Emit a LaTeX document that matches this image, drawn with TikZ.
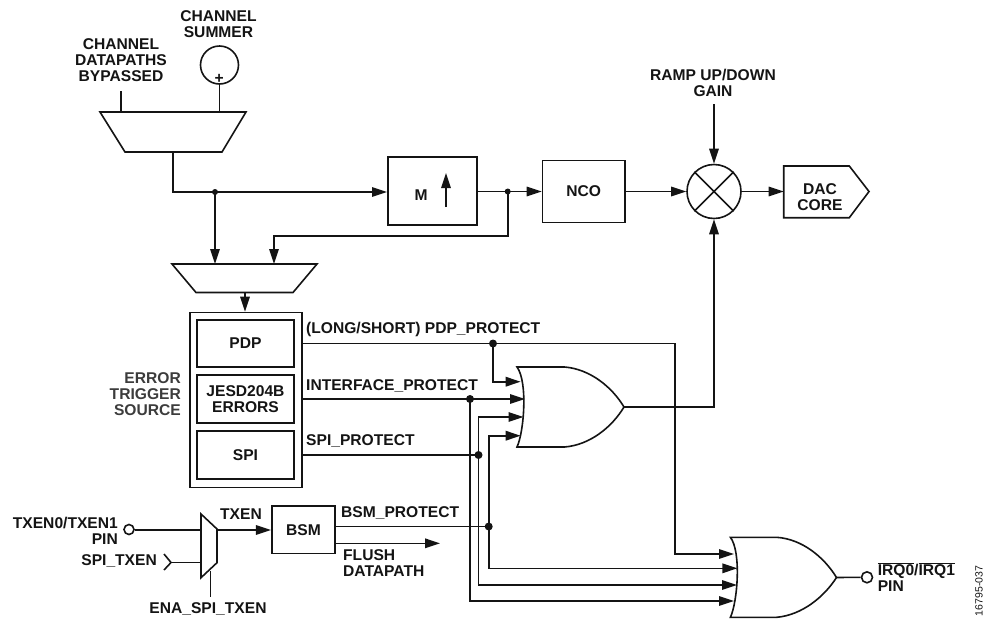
\documentclass[tikz,border=0pt]{standalone}
\usepackage{fontspec}
\setmainfont{Liberation Sans}
\usetikzlibrary{arrows.meta,calc}
\definecolor{ink}{HTML}{141414}
\definecolor{graytxt}{HTML}{3C3C3C}
\tikzset{
  wire/.style={draw=ink,line width=1.6pt,line join=miter},
  arr/.style={wire,-{Triangle[length=15pt,width=9.5pt]}},
  box/.style={draw=ink,line width=1.6pt,inner sep=0pt,fill=white,font=\fontsize{15.6}{16}\selectfont\bfseries,text=ink,align=center},
  lbl/.style={inner sep=0pt,font=\fontsize{15.6}{16}\selectfont\bfseries,text=ink,align=center},
  lbll/.style={lbl,align=left,anchor=west},
  lblr/.style={lbl,align=right,anchor=east},
  sdot/.style={circle,fill=ink,draw=none,inner sep=0pt,minimum size=6pt},
  bubble/.style={circle,draw=ink,line width=1.6pt,fill=white,inner sep=0pt},
}
\begin{document}
\begin{tikzpicture}[x=1pt,y=-1pt]
\useasboundingbox (0,0) rectangle (985,619);
% coordinates
\coordinate (m1a) at (121,113); \coordinate (m1b) at (219.5,112); \coordinate (m1c) at (173,152);
\coordinate (m2a) at (215,264); \coordinate (m2b) at (274,264); \coordinate (m2c) at (245,292);
% labels top
\node[lbl] (lsum) at (218.5,24) {CHANNEL\\SUMMER};
\node[lbl] (lbyp) at (121,60) {CHANNEL\\DATAPATHS\\BYPASSED};
\node[lbl] (lramp) at (713,83) {RAMP UP/DOWN\\GAIN};
\coordinate (bypend) at (121,91);
\coordinate (rampend) at (714,104);
% summer
\node[bubble,minimum size=38pt] (sum) at (219.5,65) {};
\node[lbl] (plus) at (219.3,79) {+};
% mux 1 / 2
\draw[wire] (100,112) -- (246,112) -- (222,152) -- (125,152) -- cycle;
\draw[wire] (172,264) -- (317,264) -- (293,292.5) -- (196,292.5) -- cycle;
\draw[wire] (bypend) -- (m1a);
\draw[wire] (sum.south) -- (m1b);
% blocks
\node[box,minimum width=89pt,minimum height=68pt] (mbox) at (432.3,191) {};
\node[lbl] (mtxt) at (421,195) {M};
\coordinate (up1) at (446,207); \coordinate (up2) at (446,173);
\draw[arr] (up1) -- (up2);
\node[box,minimum width=82.5pt,minimum height=62pt] (nco) at (583.7,191.5) {NCO};
\node[bubble,minimum size=54pt] (mix) at (714,191.5) {};
\draw[wire] (mix.45) -- (mix.225) (mix.135) -- (mix.315);
\draw[wire] (783.7,166) -- (849.3,166) -- (869,191.5) -- (849.3,217.7) -- (783.7,217.7) -- cycle;
\node[lbl] (dac) at (820,197) {DAC\\CORE};
\coordinate (dacin) at (783.7,191.5);
% junctions top
\node[sdot] (j1) at (215,192) {};
\node[sdot] (j2) at (507.7,191.5) {};
% connectors top
\draw[wire] (m1c) |- (j1.center);
\draw[arr] (j1.center) -- (mbox.west |- j1);
\draw[arr] (j1.center) -- (m2a);
\draw[wire] (mbox.east |- j2) -- (j2.center);
\draw[arr] (j2.center) -- (nco.west |- j2);
\draw[arr] (j2.center) |- (274,236) -- (m2b);
\draw[arr] (nco.east |- mix) -- (mix.west);
\draw[arr] (mix.east) -- (dacin);
\draw[arr] (rampend) -- (mix.north);
% error source
\node[box,minimum width=111.5pt,minimum height=175pt] (outer) at (246,400) {};
\node[box,minimum width=97pt,minimum height=47pt] (pdp) at (245.5,343.5) {PDP};
\node[box,minimum width=97pt,minimum height=48pt] (jesd) at (245.5,399) {JESD204B\\ERRORS};
\node[box,minimum width=97pt,minimum height=48pt] (spi) at (245.5,455) {SPI};
\draw[arr] (m2c) -- (outer.north -| m2c);
\node[lblr,text=graytxt] (lerr) at (181,394) {ERROR\\TRIGGER\\SOURCE};
\node[lbll] (lpdp) at (306,329) {(LONG/SHORT) PDP\_PROTECT};
\node[lbll] (lint) at (306,385.5) {INTERFACE\_PROTECT};
\node[lbll] (lspi) at (306,440.5) {SPI\_PROTECT};
% gates
\coordinate (g1a) at (517,367); \coordinate (g1b) at (517,447); \coordinate (g1t) at (624,407);
\draw[wire,fill=white] (g1a) -- (564.5,367) .. controls (590,369) and (612,387) .. (g1t) .. controls (612,427) and (590,445) .. (564.5,447) -- (g1b) .. controls (524,432) and (528,382) .. cycle;
\coordinate (g2a) at (730.4,537.3); \coordinate (g2b) at (730.4,617.3); \coordinate (g2t) at (836.5,577.5);
\draw[wire,fill=white] (g2a) -- (776.7,537.3) .. controls (802,539) and (824,557) .. (g2t) .. controls (824,597) and (802,615) .. (776.7,617.3) -- (g2b) .. controls (737.5,602) and (741.5,552) .. cycle;
\node[bubble,minimum size=11pt] (nb) at (867,577.3) {};
\draw[wire] (g2t) -- (nb.west);
\node[lbll] (lirq) at (877.6,577) {$\overline{\mbox{IRQ0}}$/$\overline{\mbox{IRQ1}}$\\PIN};
\node[rotate=90,inner sep=0pt,font=\fontsize{10.5}{12}\selectfont,text=ink] (code) at (979,591) {16795-037};
% tx path
\node[bubble,minimum size=10pt] (txpin) at (129,529.5) {};
\node[lblr] (ltx) at (118,531) {TXEN0/TXEN1\\PIN};
\node[lblr] (lspitx) at (157,561) {SPI\_TXEN};
\coordinate (chev) at (171,562.5);
\draw[wire] (164,554) -- (chev) -- (164,570);
\draw[wire] (201,514) -- (217,529) -- (217,562.7) -- (201,577.7) -- cycle;
\coordinate (mxin1) at (201,530); \coordinate (mxin2) at (201,562.5); \coordinate (mxout) at (217,530);
\coordinate (ensel) at (210.5,571); \coordinate (enend) at (210.5,597);
\draw[wire] (txpin.east |- mxin1) -- (mxin1);
\draw[wire] (chev) -- (mxin2);
\draw[wire] (ensel) -- (enend);
\node[lbl] (lena) at (208,609) {ENA\_SPI\_TXEN};
\node[box,minimum width=63.5pt,minimum height=47.5pt] (bsm) at (303.5,529.7) {BSM};
\draw[arr] (mxout) -- (bsm.west |- mxout);
\node[lbl] (ltxen) at (241,514.5) {TXEN};
\node[lbll] (lbsm) at (341,513) {BSM\_PROTECT};
\coordinate (flush) at (440,543.3);
\draw[arr] (bsm.east |- flush) -- (flush);
\node[lbll] (lflush) at (343,563) {FLUSH\\DATAPATH};
% junctions bottom
\node[sdot,minimum size=8pt] (d1) at (493,343.5) {};
\node[sdot,minimum size=8pt] (d2) at (470,399) {};
\node[sdot,minimum size=8pt] (d3) at (478.5,455) {};
\node[sdot,minimum size=8pt] (d4) at (488.7,526.5) {};
% output of gate 1
\draw[arr] (g1t) -| (mix.south);
% routing
\draw[wire] (outer.east |- d1) -- (d1.center);
\draw[arr] (d1.center) -- (675,343.5) |- (734,554);
\draw[arr] (d1.center) |- (520.7,381.7);
\draw[wire] (outer.east |- d2) -- (d2.center);
\draw[arr] (d2.center) -- (525,399);
\draw[arr] (d2.center) |- (734,601);
\draw[wire] (outer.east |- d3) -- (d3.center);
\draw[arr] (d3.center) |- (523.5,417);
\draw[arr] (d3.center) |- (737,585);
\draw[wire] (bsm.east |- d4) -- (d4.center);
\draw[arr] (d4.center) |- (520.7,435.7);
\draw[arr] (d4.center) |- (737.4,568.3);
\end{tikzpicture}
\end{document}
